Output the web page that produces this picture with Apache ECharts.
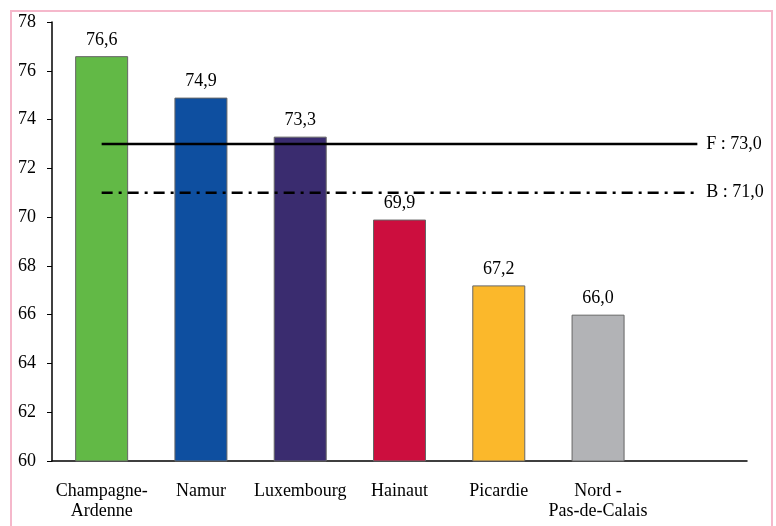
<!DOCTYPE html>
<html>
<head>
<meta charset="utf-8">
<script src="https://cdn.jsdelivr.net/npm/echarts@6/dist/echarts.min.js"></script>
<style>
  html, body { margin: 0; padding: 0; background: #fff; }
  #frame { position: absolute; left: 10px; top: 10px; width: 763px; height: 530px; border: 2px solid #f5b8cb; box-sizing: border-box; }
  #main { position: absolute; left: 0; top: 0; width: 776px; height: 526px; }
</style>
</head>
<body>
<div id="frame"></div>
<div id="main"></div>
<script>
var regions = ['Champagne-\nArdenne', 'Namur', 'Luxembourg', 'Hainaut', 'Picardie', 'Nord -\nPas-de-Calais', ''];
var values = [76.6, 74.9, 73.3, 69.9, 67.2, 66.0];
var barColors = ['#62b946', '#0e4fa0', '#3a2c6f', '#cc0e3e', '#fbb82b', '#b2b3b6'];
var franceLine = [73.0, 73.0, 73.0, 73.0, 73.0, 73.0, 73.0];
var belgiumLine = [71.0, 71.0, 71.0, 71.0, 71.0, 71.0, 71.0];
var yTicks = [60, 78, 2];

var font = 'Liberation Serif';
function fmt(v) { return v.toFixed(1).replace('.', ','); }

var chart = echarts.init(document.getElementById('main'));

var option = {
  backgroundColor: 'transparent',
  animation: false,
  grid: { left: 52, right: 29, top: 22, bottom: 65 },
  xAxis: {
    type: 'category',
    data: regions,
    axisLine: { lineStyle: { color: '#000', width: 1.5 } },
    axisTick: { show: false },
    axisLabel: { color: '#000', fontFamily: font, fontSize: 18, margin: 20, lineHeight: 20, interval: 0 }
  },
  yAxis: {
    type: 'value',
    min: yTicks[0],
    max: yTicks[1],
    interval: yTicks[2],
    splitLine: { show: false },
    axisLine: { show: true, lineStyle: { color: '#000', width: 1.5 } },
    axisTick: { show: true, length: 5, lineStyle: { color: '#000' } },
    axisLabel: { color: '#000', fontFamily: font, fontSize: 18, margin: 16 }
  },
  series: [
    {
      type: 'bar',
      barWidth: 53,
      data: values.map(function (v, i) {
        return { value: v, itemStyle: { color: barColors[i] } };
      }),
      itemStyle: { borderColor: '#666', borderWidth: 1 },
      label: {
        show: true,
        position: 'top',
        distance: 7,
        color: '#000',
        fontFamily: font,
        fontSize: 18,
        formatter: function (p) { return fmt(p.value); }
      }
    },
    {
      type: 'line',
      data: franceLine,
      symbol: 'none',
      lineStyle: { color: '#000', width: 2.5 },
      endLabel: {
        show: true,
        distance: 9,
        color: '#000',
        fontFamily: font,
        fontSize: 18,
        formatter: 'F : 73,0'
      }
    },
    {
      type: 'line',
      data: belgiumLine,
      symbol: 'none',
      lineStyle: { color: '#000', width: 2.5, type: [11, 6, 3, 6] },
      endLabel: {
        show: true,
        distance: 9,
        color: '#000',
        fontFamily: font,
        fontSize: 18,
        formatter: 'B : 71,0'
      }
    }
  ]
};

chart.setOption(option);
</script>
</body>
</html>
